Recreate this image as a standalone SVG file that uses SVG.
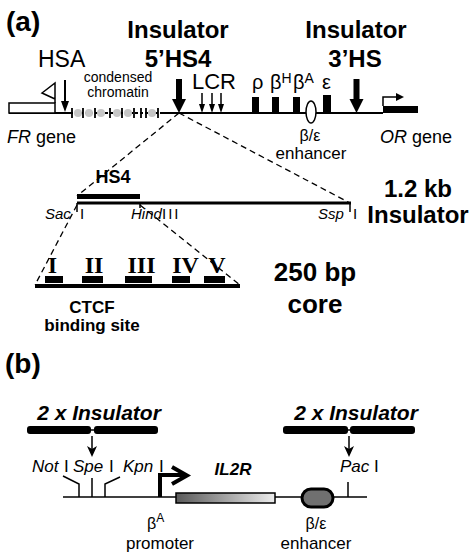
<svg xmlns="http://www.w3.org/2000/svg" width="474" height="556" viewBox="0 0 474 556">
<defs>
<style>
text{font-family:"Liberation Sans",Arial,sans-serif;fill:#000}
.b{font-weight:bold}
.i{font-style:italic}
.lbl{font-size:24px;font-weight:bold}
.rom{font-family:"Liberation Serif","Times New Roman",serif;font-weight:bold;font-size:24px}
.ln{stroke:#000;fill:none}
.dash{stroke:#000;fill:none;stroke-width:1.3;stroke-dasharray:6 4}
.blk{fill:#000}
</style>
<linearGradient id="gr" x1="0" x2="1" y1="0" y2="0">
<stop offset="0" stop-color="#5a5a5a"/>
<stop offset="1" stop-color="#ececec"/>
</linearGradient>
</defs>
<rect width="474" height="556" fill="#fff"/>

<!-- Panel a -->
<text x="6" y="31" font-size="28" class="b">(a)</text>

<g id="connectors">
<line class="dash" x1="179" y1="113" x2="77" y2="196"/>
<line class="dash" x1="179" y1="113" x2="350" y2="203"/>
<line class="dash" x1="77" y1="205" x2="35" y2="285"/>
<line class="dash" x1="140" y1="205" x2="240" y2="285"/>
</g>

<g id="locus">
<path class="ln" stroke-width="2" d="M9,113 H70 M162,113 H383"/>
<rect x="9" y="103" width="46" height="10" fill="#fff" stroke="#000" stroke-width="1.5"/>
<path class="ln" stroke-width="1.5" d="M55,103 V83 L42,93 L55,99"/>
<!-- condensed chromatin -->
<line x1="70" y1="113" x2="162" y2="113" stroke="#000" stroke-width="2" stroke-dasharray="3 2"/>
<g fill="#c6c6c6">
<ellipse cx="78" cy="113" rx="4" ry="4"/>
<ellipse cx="89" cy="113" rx="4" ry="4"/>
<ellipse cx="101" cy="113" rx="4" ry="4"/>
<ellipse cx="117" cy="113" rx="4" ry="4"/>
<ellipse cx="128" cy="113" rx="4" ry="4"/>
<ellipse cx="152" cy="113" rx="4" ry="4"/>
</g>
<path class="ln" stroke-width="1.8" d="M72,108 V118 M83,108 V118 M95,108 V118 M110,108 V118 M122,108 V118 M134,108 V118 M141,108 V118 M146,108 V118 M158,108 V118"/>
</g>

<g id="HSA">
<text x="38" y="67" font-size="23">HSA</text>
<line x1="65" y1="80" x2="65" y2="103" stroke="#000" stroke-width="2"/>
<polygon class="blk" points="61,101 69,101 65,112"/>
</g>

<g id="chromatin-label">
<text x="118" y="82" font-size="14" text-anchor="middle">condensed</text>
<text x="118" y="97" font-size="14" text-anchor="middle">chromatin</text>
</g>

<g id="HS4-5">
<text x="178" y="38" class="lbl" text-anchor="middle">Insulator</text>
<text x="178" y="67" class="lbl" text-anchor="middle">5’HS4</text>
<rect x="176" y="79" width="6" height="21" class="blk"/>
<polygon class="blk" points="172,99 186,99 179,113"/>
</g>

<g id="LCR">
<text x="192" y="89" font-size="22">LCR</text>
<path class="ln" stroke-width="1.5" d="M202,93 V106 M212,93 V106 M221,93 V106"/>
<polygon class="blk" points="199,104 205,104 202,113"/>
<polygon class="blk" points="209,104 215,104 212,113"/>
<polygon class="blk" points="218,104 224,104 221,113"/>
</g>

<g id="globins">
<rect x="252" y="97" width="7" height="16" class="blk"/>
<rect x="272" y="97" width="7" height="16" class="blk"/>
<rect x="293" y="97" width="7" height="16" class="blk"/>
<rect x="323" y="95" width="8" height="18" class="blk"/>
<text x="252" y="89" font-size="20">ρ</text>
<text x="270" y="89" font-size="20">β<tspan font-size="14" dy="-6">H</tspan></text>
<text x="293" y="89" font-size="20">β<tspan font-size="14" dy="-6">A</tspan></text>
<text x="322" y="89" font-size="20">ε</text>
</g>

<g id="enhancer-a">
<ellipse cx="311" cy="112" rx="5" ry="11" fill="#fff" stroke="#000" stroke-width="1.5"/>
<text x="310" y="141" font-size="16" text-anchor="middle">β/ε</text>
<text x="311" y="159" font-size="17" text-anchor="middle">enhancer</text>
</g>

<g id="HS3">
<text x="356" y="38" class="lbl" text-anchor="middle">Insulator</text>
<text x="355" y="67" class="lbl" text-anchor="middle">3’HS</text>
<rect x="353.5" y="79" width="6" height="21" class="blk"/>
<polygon class="blk" points="349.5,99 363.5,99 356.5,113"/>
</g>

<g id="OR">
<rect x="383" y="106" width="35" height="7" class="blk"/>
<path class="ln" stroke-width="1.5" d="M383,106 V97 H397"/>
<polygon class="blk" points="396,93 404,97 396,101"/>
<text x="380" y="143" font-size="18"><tspan class="i">OR</tspan> gene</text>
</g>
<g id="FR">
<text x="7" y="143" font-size="18"><tspan class="i">FR</tspan> gene</text>
</g>

<g id="insulator-1.2kb">
<text x="113" y="183" font-size="18" class="b" text-anchor="middle">HS4</text>
<line x1="77" y1="196.5" x2="140" y2="196.5" stroke="#000" stroke-width="5"/>
<line x1="77" y1="203" x2="351" y2="203" stroke="#000" stroke-width="3"/>
<path class="ln" stroke-width="1.5" d="M77,203 V212 M350,203 V212 M140,203 V208"/>
<text x="45" y="219" font-size="15" class="i">Sac</text>
<text x="80" y="219" font-size="15">I</text>
<text x="131" y="219" font-size="15" class="i">Hind</text>
<text x="162" y="219" font-size="15" letter-spacing="2">III</text>
<text x="318" y="219" font-size="15" class="i">Ssp</text>
<text x="353" y="219" font-size="15">I</text>
<text x="418" y="197" class="lbl" text-anchor="middle">1.2 kb</text>
<text x="418" y="223" class="lbl" text-anchor="middle">Insulator</text>
</g>

<g id="core-250bp">
<line x1="35" y1="286" x2="240" y2="286" stroke="#000" stroke-width="4"/>
<rect x="45" y="276" width="18" height="7" class="blk"/>
<rect x="82" y="276" width="21" height="7" class="blk"/>
<rect x="125" y="276" width="27" height="7" class="blk"/>
<rect x="172" y="276" width="18" height="7" class="blk"/>
<rect x="204" y="276" width="21" height="7" class="blk"/>
<text x="52.5" y="273" class="rom" text-anchor="middle">I</text>
<text x="94" y="273" class="rom" text-anchor="middle">II</text>
<text x="141.5" y="273" class="rom" text-anchor="middle">III</text>
<text x="185.5" y="273" class="rom" text-anchor="middle">IV</text>
<text x="217" y="273" class="rom" text-anchor="middle">V</text>
<text x="315" y="281" font-size="26" class="b" text-anchor="middle">250 bp</text>
<text x="315" y="313" font-size="26" class="b" text-anchor="middle">core</text>
<text x="92" y="313" font-size="17" class="b" text-anchor="middle">CTCF</text>
<text x="92" y="331" font-size="17" class="b" text-anchor="middle">binding site</text>
</g>

<!-- Panel b -->
<text x="5" y="373" font-size="28" class="b">(b)</text>

<g id="insulator-left">
<text x="99" y="420" font-size="21" class="b i" text-anchor="middle">2 x Insulator</text>
<line x1="90" y1="430" x2="95" y2="430" stroke="#000" stroke-width="1.5"/>
<rect x="27" y="426" width="64" height="8" rx="3" class="blk"/>
<rect x="94" y="426" width="64" height="8" rx="3" class="blk"/>
<line x1="92" y1="436" x2="92" y2="450" stroke="#000" stroke-width="1.5"/>
<polygon class="blk" points="87,446 92,449 97,446 92,457"/>
</g>

<g id="insulator-right">
<text x="356" y="420" font-size="21" class="b i" text-anchor="middle">2 x Insulator</text>
<line x1="347" y1="430" x2="351" y2="430" stroke="#000" stroke-width="1.5"/>
<rect x="283" y="426" width="65" height="8" rx="3" class="blk"/>
<rect x="350" y="426" width="65" height="8" rx="3" class="blk"/>
<line x1="349" y1="436" x2="349" y2="450" stroke="#000" stroke-width="1.5"/>
<polygon class="blk" points="344,446 349,449 354,446 349,457"/>
</g>

<g id="construct">
<line x1="63" y1="497" x2="367" y2="497" stroke="#000" stroke-width="1.5"/>
<path class="ln" stroke-width="1.5" d="M63,476 L79,484 V497 M92,478 V497 M120,477 L105,484 V497 M348,482 V497"/>
<text x="32" y="472" font-size="17" class="i">Not</text>
<text x="64" y="472" font-size="17">I</text>
<text x="73" y="472" font-size="17" class="i">Spe</text>
<text x="109" y="472" font-size="17">I</text>
<text x="123" y="472" font-size="17" class="i">Kpn</text>
<text x="159" y="472" font-size="17">I</text>
<text x="340" y="472" font-size="17" class="i">Pac</text>
<text x="374" y="472" font-size="17">I</text>
</g>

<g id="promoter">
<path class="ln" stroke-width="4" d="M160,497 V475 H185"/>
<polyline class="ln" stroke-width="4" points="172,467 187,475.5 172,484"/>
<text x="147" y="529" font-size="16">β<tspan font-size="12" dy="-7">A</tspan></text>
<text x="160" y="549" font-size="17" text-anchor="middle">promoter</text>
</g>

<g id="IL2R">
<rect x="176" y="493" width="99" height="10" fill="url(#gr)" stroke="#000" stroke-width="1.5"/>
<text x="233" y="475" font-size="17" class="b i" text-anchor="middle">IL2R</text>
</g>

<g id="enhancer-b">
<rect x="302" y="489" width="31" height="18" rx="9" fill="#707070" stroke="#000" stroke-width="3"/>
<text x="316" y="529" font-size="16" text-anchor="middle">β/ε</text>
<text x="316" y="549" font-size="17" text-anchor="middle">enhancer</text>
</g>
</svg>
